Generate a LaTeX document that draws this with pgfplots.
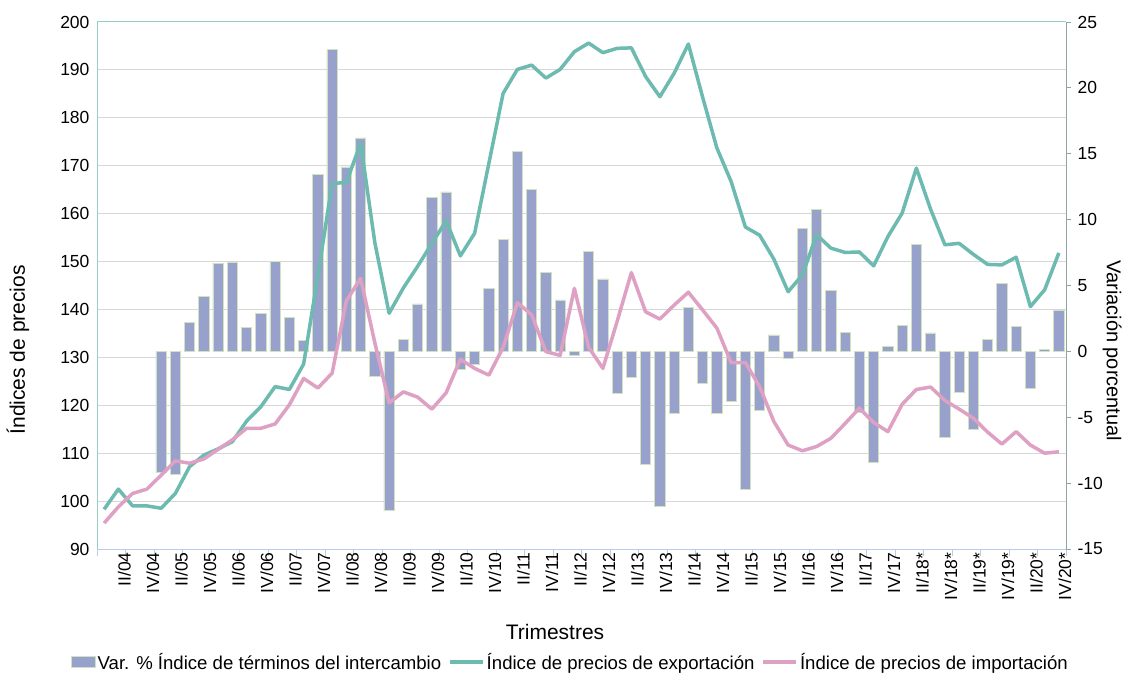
\documentclass[border=0pt]{standalone}
\usepackage{fontspec}
\setmainfont{Liberation Sans}
\usepackage{pgfplots}
\pgfplotsset{compat=1.18}
\definecolor{teal1}{RGB}{108,186,176}
\definecolor{pink1}{RGB}{222,160,195}
\definecolor{barc}{RGB}{152,160,204}
\definecolor{baredge}{RGB}{208,226,192}
\definecolor{gridc}{RGB}{215,215,215}
\definecolor{leftc}{RGB}{150,205,198}
\definecolor{botc}{RGB}{185,205,229}
\definecolor{rightc}{RGB}{140,165,165}
\pgfplotsset{
  linelegend/.style={legend image code/.code={\draw[##1] (0pt,0pt) -- (33pt,0pt);}},
  barlegend/.style={legend image code/.code={\draw[##1] (0pt,-5.5pt) rectangle (24pt,5.5pt);}},
}
\begin{document}
\begin{tikzpicture}
\path[use as bounding box] (0,0) rectangle (1123pt,673pt);
% background axis: left scale, grid, x labels
\begin{axis}[
  at={(97pt,124pt)}, anchor=south west, width=969pt, height=527pt, scale only axis,
  xmin=0, xmax=68, ymin=90, ymax=200,
  axis x line*=bottom, axis y line*=left,
  x axis line style={-, draw=botc, line width=1pt},
  y axis line style={-, draw=leftc, line width=1pt},
  ytick={90,100,...,200}, ymajorgrids, grid style={draw=gridc, line width=1pt},
  xtick={1.5,3.5,...,67.5},
  xticklabels={II/04,IV/04,II/05,IV/05,II/06,IV/06,II/07,IV/07,II/08,IV/08,II/09,IV/09,II/10,IV/10,II/11,IV/11,II/12,IV/12,II/13,IV/13,II/14,IV/14,II/15,IV/15,II/16,IV/16,II/17,IV/17,II/18*,IV/18*,II/19*,IV/19*,II/20*,IV/20*},
  minor xtick={0,2,...,68},
  major tick length=0pt, minor tick length=7pt, tick align=outside,
  minor tick style={draw=botc, line width=1pt},
  /pgf/number format/assume math mode=true,
  tick label style={font=\fontsize{17.5}{20}\selectfont},
  x tick label style={rotate=90, anchor=east, yshift=-6pt},
  y tick label style={xshift=-4pt},
  xlabel={Trimestres}, ylabel={Índices de precios},
  every axis x label/.style={at={(axis description cs:0.4727,-0.1575)}, anchor=center, font=\fontsize{21}{24}\selectfont},
  every axis y label/.style={at={(axis description cs:-0.0815,0.378)}, anchor=center, rotate=90, font=\fontsize{21}{24}\selectfont},
]
\draw[draw=leftc, line width=1pt] (rel axis cs:0,1) -- (rel axis cs:1,1);
\end{axis}
% bars: right scale
\begin{axis}[
  at={(97pt,124pt)}, anchor=south west, width=969pt, height=527pt, scale only axis,
  xmin=0, xmax=68, ymin=-15, ymax=25,
  axis x line=none, axis y line*=right,
  y axis line style={-, draw=rightc, line width=1pt},
  ytick={-15,-10,...,25}, major tick length=5pt, tick align=outside,
  major tick style={draw=rightc, line width=1pt},
  /pgf/number format/assume math mode=true,
  tick label style={font=\fontsize{17.5}{20}\selectfont},
  y tick label style={xshift=3pt},
  ylabel={Variación porcentual},
  every axis y label/.style={at={(axis description cs:1.0475,0.376)}, anchor=center, rotate=-90, font=\fontsize{20}{23}\selectfont},
]
\addplot[ybar, bar width=0.72, fill=barc, draw=baredge, line width=0.8pt] coordinates {
(4.5,-9.2) (5.5,-9.3) (6.5,2.2) (7.5,4.15) (8.5,6.7) (9.5,6.75) (10.5,1.8) (11.5,2.85)
(12.5,6.8) (13.5,2.6) (14.5,0.8) (15.5,13.4) (16.5,22.9) (17.5,14.0) (18.5,16.2) (19.5,-1.9)
(20.5,-12.1) (21.5,0.9) (22.5,3.6) (23.5,11.7) (24.5,12.1) (25.5,-1.4) (26.5,-1.0) (27.5,4.8)
(28.5,8.5) (29.5,15.2) (30.5,12.3) (31.5,6.0) (32.5,3.9) (33.5,-0.3) (34.5,7.6) (35.5,5.5)
(36.5,-3.2) (37.5,-1.95) (38.5,-8.6) (39.5,-11.8) (40.5,-4.7) (41.5,3.35) (42.5,-2.4) (43.5,-4.7)
(44.5,-3.8) (45.5,-10.5) (46.5,-4.45) (47.5,1.25) (48.5,-0.5) (49.5,9.35) (50.5,10.75) (51.5,4.65)
(52.5,1.45) (53.5,-4.6) (54.5,-8.4) (55.5,0.35) (56.5,1.95) (57.5,8.15) (58.5,1.4) (59.5,-6.5)
(60.5,-3.1) (61.5,-5.9) (62.5,0.9) (63.5,5.15) (64.5,1.9) (65.5,-2.8) (66.5,0.15) (67.5,3.1)
};
\end{axis}
% lines: left scale
\begin{axis}[
  at={(97pt,124pt)}, anchor=south west, width=969pt, height=527pt, scale only axis,
  xmin=0, xmax=68, ymin=90, ymax=200, hide axis,
  legend columns=3, legend cell align=left,
  legend style={at={(axis description cs:0.4885,-0.2144)}, anchor=center, draw=none, fill=none,
    font=\fontsize{18.6}{21}\selectfont, /tikz/every even column/.append style={column sep=5pt}},
]
\addlegendimage{fill=barc, draw=baredge, line width=0.8pt, barlegend}
\addlegendentry{Var. \% Índice de términos del intercambio}
\addplot[teal1, line width=3.5pt, line join=round, linelegend] coordinates {
(0.5,98.3) (1.5,102.5) (2.5,99.0) (3.5,99.0) (4.5,98.5) (5.5,101.6) (6.5,107.2) (7.5,109.6)
(8.5,110.9) (9.5,112.4) (10.5,116.7) (11.5,119.7) (12.5,123.9) (13.5,123.3) (14.5,128.6) (15.5,147.0)
(16.5,166.3) (17.5,166.5) (18.5,174.7) (19.5,153.9) (20.5,139.2) (21.5,144.5) (22.5,149.0) (23.5,153.8)
(24.5,158.5) (25.5,151.2) (26.5,155.9) (27.5,170.5) (28.5,185.1) (29.5,190.1) (30.5,191.0) (31.5,188.3)
(32.5,190.1) (33.5,193.8) (34.5,195.6) (35.5,193.6) (36.5,194.5) (37.5,194.6) (38.5,188.6) (39.5,184.4)
(40.5,189.3) (41.5,195.4) (42.5,184.3) (43.5,173.7) (44.5,166.7) (45.5,157.2) (46.5,155.5) (47.5,150.5)
(48.5,143.7) (49.5,147.2) (50.5,155.6) (51.5,152.8) (52.5,151.9) (53.5,152.0) (54.5,149.1) (55.5,155.2)
(56.5,160.1) (57.5,169.5) (58.5,160.9) (59.5,153.5) (60.5,153.8) (61.5,151.5) (62.5,149.4) (63.5,149.3)
(64.5,150.9) (65.5,140.6) (66.5,144.1) (67.5,151.8)
};
\addlegendentry{Índice de precios de exportación}
\addplot[pink1, line width=3.5pt, line join=round, linelegend] coordinates {
(0.5,95.4) (1.5,98.8) (2.5,101.6) (3.5,102.5) (4.5,105.4) (5.5,108.4) (6.5,107.9) (7.5,108.8)
(8.5,110.8) (9.5,112.8) (10.5,115.2) (11.5,115.2) (12.5,116.1) (13.5,120.1) (14.5,125.6) (15.5,123.6)
(16.5,126.7) (17.5,141.8) (18.5,146.5) (19.5,133.0) (20.5,120.5) (21.5,122.8) (22.5,121.7) (23.5,119.2)
(24.5,122.6) (25.5,129.6) (26.5,127.7) (27.5,126.3) (28.5,132.1) (29.5,141.4) (30.5,138.9) (31.5,131.2)
(32.5,130.4) (33.5,144.4) (34.5,132.1) (35.5,127.7) (36.5,137.5) (37.5,147.7) (38.5,139.5) (39.5,138.0)
(40.5,140.9) (41.5,143.6) (42.5,139.9) (43.5,136.1) (44.5,128.9) (45.5,128.9) (46.5,123.9) (47.5,116.6)
(48.5,111.7) (49.5,110.5) (50.5,111.4) (51.5,113.1) (52.5,116.2) (53.5,119.4) (54.5,116.4) (55.5,114.5)
(56.5,120.2) (57.5,123.3) (58.5,123.8) (59.5,121.0) (60.5,119.2) (61.5,117.3) (62.5,114.4) (63.5,111.9)
(64.5,114.5) (65.5,111.7) (66.5,110.0) (67.5,110.3)
};
\addlegendentry{Índice de precios de importación}
\end{axis}
\end{tikzpicture}
\end{document}
